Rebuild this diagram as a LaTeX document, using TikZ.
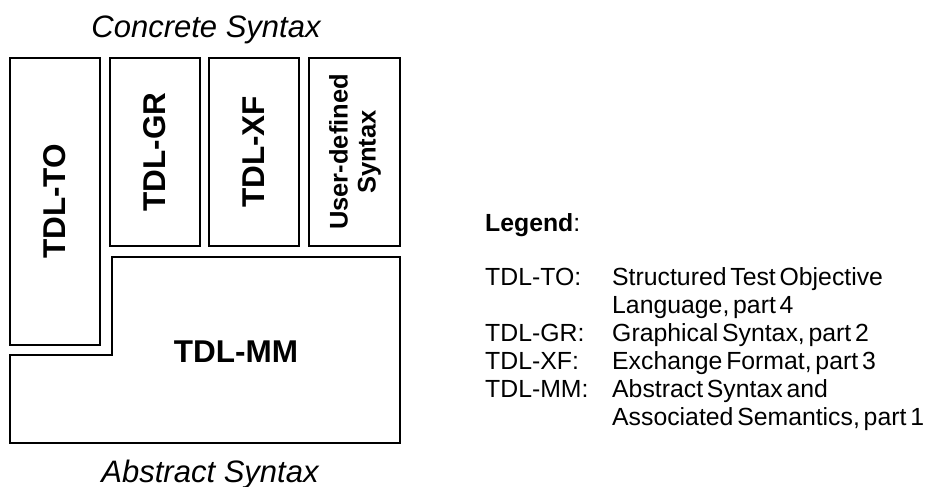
\documentclass[tikz,border=0pt]{standalone}
\usepackage{fontspec}
\setmainfont{Liberation Sans}
\newfontfamily\legfont[WordSpace=0.55]{Liberation Sans}
\begin{document}
\begin{tikzpicture}[x=1pt,y=-1pt,
  boxline/.style={draw=black,line width=2.9pt,line join=miter},
  boxlabel/.style={font=\fontsize{31.5}{34}\selectfont\bfseries,inner sep=0pt},
  udlabel/.style={font=\fontsize{25.5}{28}\selectfont\bfseries,inner sep=0pt,align=center},
  caption/.style={font=\fontsize{31}{34}\selectfont\itshape,inner sep=0pt,anchor=base},
  legtext/.style={font=\legfont\fontsize{24.8}{28}\selectfont,inner sep=0pt,anchor=base west}]
\useasboundingbox (0,0) rectangle (929,487);
% boxes
\draw[boxline] (10,58) rectangle (100,345);
\draw[boxline] (110,58) rectangle (200,246);
\draw[boxline] (209,58) rectangle (299,246);
\draw[boxline] (309,58) rectangle (400,246);
\draw[boxline] (112,257) -- (400,257) -- (400,443) -- (10,443) -- (10,355) -- (112,355) -- cycle;
% labels
\node[boxlabel,rotate=90] (to) at (55,201.5) {TDL-TO};
\node[boxlabel,rotate=90] (gr) at (155,152) {TDL-GR};
\node[boxlabel,rotate=90] (xf) at (254,152) {TDL-XF};
\node[udlabel,rotate=90] (ud) at (355,152) {User-defined\\Syntax};
\node[boxlabel] (mm) at (236,352) {TDL-MM};
\node[caption] (cs) at (206,38) {Concrete Syntax};
\node[caption] (as) at (210,482) {Abstract Syntax};
% legend
\node[legtext] (leg) at (485,231) {\textbf{Legend}:};
\node[legtext] (k1) at (485,285) {TDL-TO:};
\node[legtext] (v1a) at (612,285) {Structured Test Objective};
\node[legtext] (v1b) at (612,313) {Language, part 4};
\node[legtext] (k2) at (485,341) {TDL-GR:};
\node[legtext] (v2) at (612,341) {Graphical Syntax, part 2};
\node[legtext] (k3) at (485,369) {TDL-XF:};
\node[legtext] (v3) at (612,369) {Exchange Format, part 3};
\node[legtext] (k4) at (485,397) {TDL-MM:};
\node[legtext] (v4a) at (612,397) {Abstract Syntax and};
\node[legtext] (v4b) at (612,425) {Associated Semantics, part 1};
\end{tikzpicture}
\end{document}
